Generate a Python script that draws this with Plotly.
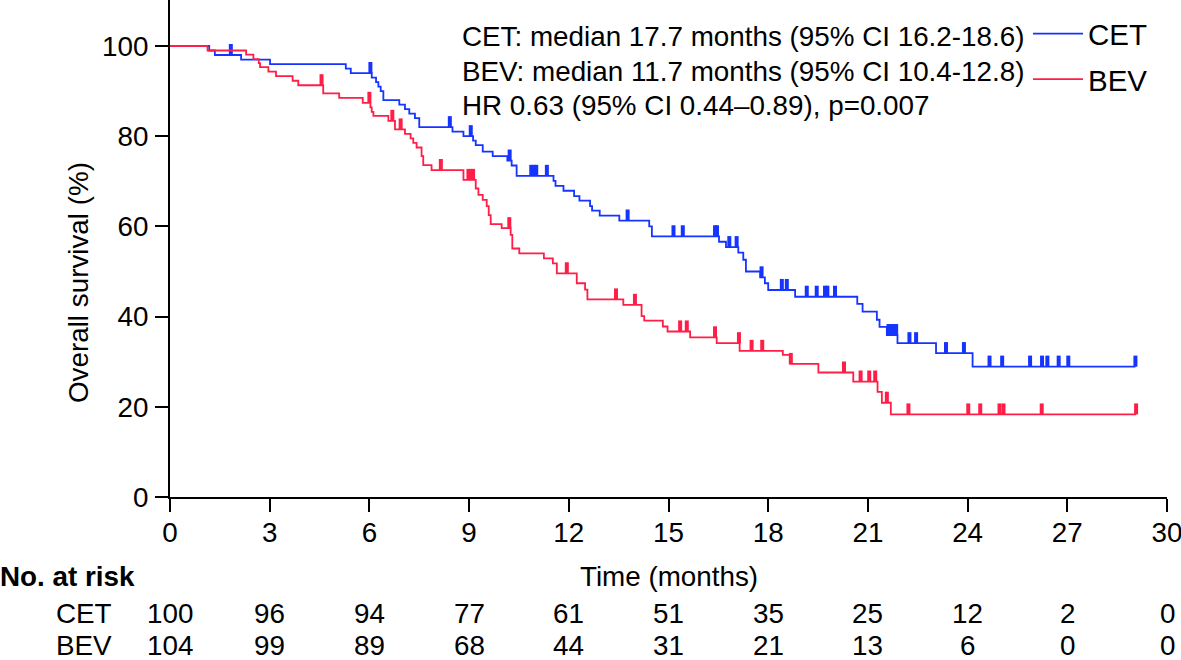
import plotly.graph_objects as go

# ---------------- data ----------------
cet_t = [0, 1.18, 1.35, 2.14, 3.01, 5.29, 5.44, 6.07, 6.2, 6.27, 6.34, 6.42, 6.9, 7.07, 7.2,
         7.37, 7.5, 8.5, 8.83, 9.12, 9.2, 9.41, 9.71, 10.15, 10.28, 10.43, 11.54, 11.6, 11.84,
         12.16, 12.32, 12.64, 12.7, 12.93, 13.52, 14.42, 14.5, 16.52, 16.73, 17.1, 17.25, 17.33,
         17.76, 17.9, 18.0, 18.81, 20.68, 20.84, 21.27, 21.35, 21.57, 21.89, 23.05, 24.15]
cet_s = [100, 99, 98, 97, 96, 95, 94, 93, 92, 91, 90, 88, 87, 86, 85,
         84, 82, 81, 80, 79, 78, 76.6, 75.6, 74.6, 73.5, 71.2, 70.1, 69, 67.9,
         66.7, 65.7, 64.5, 63.5, 62.4, 61.3, 60.0, 57.8, 56.6, 55.4, 54.2, 52.6, 50.0,
         48.7, 47.4, 45.9, 44.4, 42.8, 41.1, 39.3, 37.7, 35.9, 34.1, 31.9, 28.9]
cet_censored = [1.83, 6.03, 8.42, 9.05, 10.22, 10.87, 10.95, 11.02, 11.34, 13.77, 15.15, 15.43,
                16.4, 16.46, 16.83, 17.05, 17.8, 18.41, 18.56, 19.16, 19.46, 19.71, 19.78, 20.01,
                21.62, 21.7, 21.78, 21.85, 22.25, 22.45, 23.35, 23.89, 24.66, 25.04, 25.88, 26.24,
                26.4, 26.74, 27.03, 29.05]

bev_t = [0, 1.13, 2.29, 2.51, 2.67, 2.71, 2.96, 3.19, 3.69, 3.86, 4.61, 5.09, 5.8, 6.03, 6.07,
         6.12, 6.57, 6.77, 7.07, 7.24, 7.32, 7.42, 7.57, 7.62, 7.87, 8.83, 9.2, 9.28, 9.41, 9.53,
         9.59, 9.65, 9.98, 10.25, 10.3, 10.51, 11.25, 11.52, 11.64, 12.24, 12.49, 12.56, 13.64,
         14.19, 14.27, 14.83, 14.97, 15.65, 16.45, 17.14, 18.44, 18.66, 19.51, 20.56, 21.29,
         21.42, 21.69]
bev_s = [100, 99.0, 98.1, 97.1, 96.2, 95.3, 94.3, 93.3, 92.3, 91.3, 89.5, 88.5, 87.4, 86.4, 85.4,
         84.5, 83.4, 81.5, 80.5, 79.5, 78.5, 77.5, 75.6, 73.6, 72.5, 70.3, 68.4, 67.0, 65.9, 64.5,
         62.5, 60.5, 59.6, 58.1, 55.1, 54.0, 52.9, 51.8, 49.6, 47.4, 46.0, 43.8, 42.6,
         40.1, 39.1, 37.8, 36.7, 35.4, 34.1, 32.4, 31.5, 29.5, 27.6, 25.6, 23.3,
         20.9, 18.3]
bev_censored = [4.56, 6.0, 6.69, 6.94, 8.15, 8.98, 9.05, 9.12, 10.21, 11.94, 13.42, 13.99, 15.35,
                15.55, 16.4, 17.12, 17.5, 17.82, 18.68, 20.28, 20.78, 21.04, 21.22, 21.57, 22.22,
                24.02, 24.38, 24.96, 25.08, 26.23, 29.07]

risk_times = [0, 3, 6, 9, 12, 15, 18, 21, 24, 27, 30]
cet_at_risk = [100, 96, 94, 77, 61, 51, 35, 25, 12, 2, 0]
bev_at_risk = [104, 99, 89, 68, 44, 31, 21, 13, 6, 0, 0]

x_ticks = [0, 3, 6, 9, 12, 15, 18, 21, 24, 27, 30]
y_ticks = [0, 20, 40, 60, 80, 100]

annotation_lines = [
    "CET: median 17.7 months (95% CI 16.2-18.6)",
    "BEV: median 11.7 months (95% CI 10.4-12.8)",
    "HR 0.63 (95% CI 0.44\u20130.89), p=0.007",
]

# ---------------- styling ----------------
BLUE = "#1534FF"
RED = "#FF1E48"
FONT = "Liberation Sans, Arial, sans-serif"
FS = 27.8

W, H = 1181, 660
ML, MR, MT, MB = 170, 14, 0, 163
plot_h = H - MT - MB
plot_w = W - ML - MR


def ypaper(px):
    return (H - MB - px) / plot_h


def xpaper(px):
    return (px - ML) / plot_w


def surv_at(times, surv, c):
    val = surv[0]
    for t, s in zip(times, surv):
        if t <= c:
            val = s
    return val


fig = go.Figure()

for name, times, surv, cens, col in [
    ("CET", cet_t, cet_s, cet_censored, BLUE),
    ("BEV", bev_t, bev_s, bev_censored, RED),
]:
    end = max(cens)
    fig.add_trace(go.Scatter(
        x=times + [end], y=surv + [surv[-1]], mode="lines", name=name,
        line=dict(color=col, width=1.8, shape="hv"), showlegend=True,
        legendgroup=name,
    ))
    cy = [surv_at(times, surv, c) for c in cens]
    fig.add_trace(go.Scatter(
        x=cens, y=cy, mode="markers", showlegend=False, legendgroup=name,
        marker=dict(size=1, color="rgba(0,0,0,0)"),
        error_y=dict(type="data", symmetric=False, array=[2.45] * len(cens),
                     arrayminus=[0] * len(cens), thickness=4, width=0, color=col),
        hoverinfo="skip",
    ))

annotations = []
for txt, py in zip(annotation_lines, [36, 71, 105]):
    annotations.append(dict(
        text=txt, x=xpaper(460), y=ypaper(py), xref="paper", yref="paper",
        xanchor="left", yanchor="middle", showarrow=False, font=dict(size=FS, color="black")))

# axis titles
annotations.append(dict(
    text="Overall survival (%)", x=xpaper(78), y=ypaper(283),
    xref="paper", yref="paper", textangle=-90, xanchor="center", yanchor="middle",
    showarrow=False, font=dict(size=FS, color="black")))
annotations.append(dict(
    text="Time (months)", x=0.5, y=ypaper(576), xref="paper", yref="paper",
    xanchor="center", yanchor="middle", showarrow=False, font=dict(size=FS, color="black")))

# risk table
annotations.append(dict(
    text="<b>No. at risk</b>", x=xpaper(-2), y=ypaper(576), xref="paper",
    yref="paper", xanchor="left", yanchor="middle", showarrow=False,
    font=dict(size=FS, color="black")))
for label, vals, py in [("CET", cet_at_risk, 613), ("BEV", bev_at_risk, 645)]:
    annotations.append(dict(
        text=label, x=xpaper(54), y=ypaper(py), xref="paper", yref="paper",
        xanchor="left", yanchor="middle", showarrow=False, font=dict(size=FS, color="black")))
    for t, v in zip(risk_times, vals):
        annotations.append(dict(
            text=str(v), x=t, y=ypaper(py), xref="x", yref="paper", xanchor="center",
            yanchor="middle", showarrow=False, font=dict(size=FS, color="black")))

fig.update_layout(
    width=W, height=H,
    margin=dict(l=ML, r=MR, t=MT, b=MB),
    paper_bgcolor="white", plot_bgcolor="white",
    font=dict(family=FONT, size=FS, color="black"),
    annotations=annotations,
    showlegend=True,
    legend=dict(x=xpaper(1028), y=ypaper(8), xanchor="left", yanchor="top",
                bgcolor="rgba(0,0,0,0)", font=dict(size=29.5, color="black"),
                tracegroupgap=4, traceorder="grouped", itemwidth=50),
)
fig.update_xaxes(
    range=[0, 30], tickvals=x_ticks, ticktext=[str(v) for v in x_ticks],
    showline=True, linewidth=2, linecolor="black", ticks="outside", ticklen=13,
    tickwidth=2, tickcolor="black", showgrid=False, zeroline=False,
    tickfont=dict(size=FS, color="black"), ticklabelstandoff=-3,
    ticklabeloverflow="allow",
)
fig.update_yaxes(
    range=[0, 110.2], tickvals=y_ticks, ticktext=[str(v) for v in y_ticks],
    showline=True, linewidth=2, linecolor="black", ticks="outside", ticklen=13,
    tickwidth=2, tickcolor="black", showgrid=False, zeroline=False,
    tickfont=dict(size=FS, color="black"), ticklabelstandoff=1,
)

fig.write_html(
    "out.html",
    config={"displayModeBar": False},
    post_script="document.body.style.margin='0';document.body.style.padding='0';",
)
